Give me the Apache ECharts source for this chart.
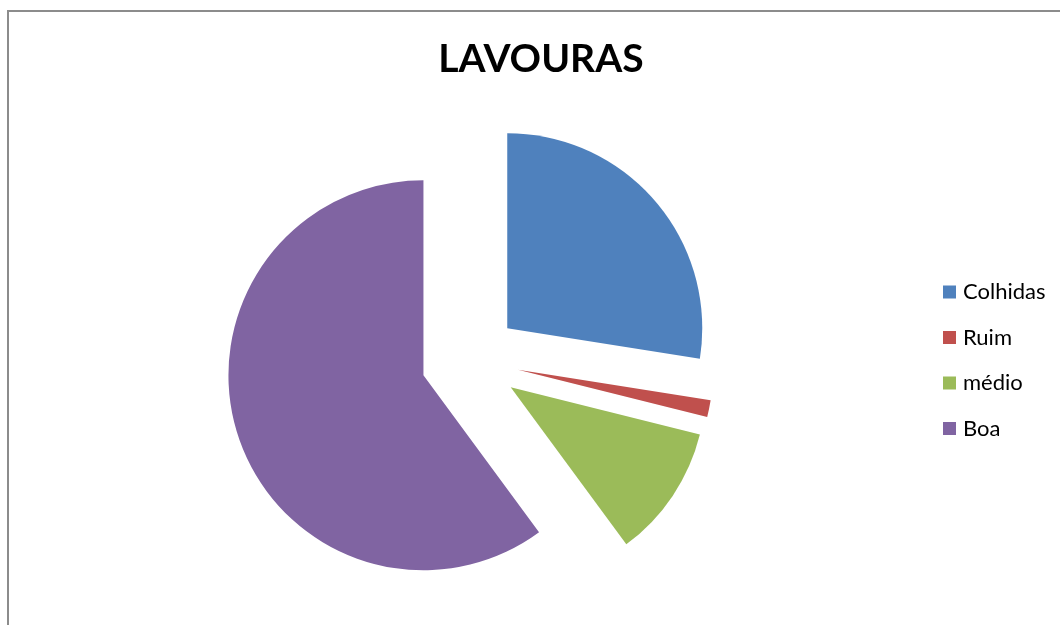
<!DOCTYPE html>
<html>
<head>
<meta charset="utf-8">
<script src="https://cdn.jsdelivr.net/npm/echarts@6/dist/echarts.min.js"></script>
<style>
	html, body { margin: 0; padding: 0; background: #fff; }
	#chart { width: 1060px; height: 625px; }
</style>
</head>
<body>
<div id="chart"></div>
<script>
const categories = [ 'Colhidas', 'Ruim', 'médio', 'Boa' ];
const values = [ 27.5, 1.4, 11.0, 60.1 ];
const colors = [ '#4F81BD', '#C0504D', '#9BBB59', '#8064A2' ];

const chart = echarts.init( document.getElementById( 'chart' ), null, { renderer: 'canvas' } );

const pieData = categories.map( ( name, i ) => ( {
	name,
	value: values[ i ],
	selected: true,
	itemStyle: { color: colors[ i ] }
} ) );

chart.setOption( {
	animation: false,
	title: {
		text: 'LAVOURAS',
		left: 536,
		top: 35,
		textAlign: 'center',
		textStyle: {
			fontFamily: 'Lato',
			fontWeight: 'bold',
			fontSize: 39,
			color: '#000'
		}
	},
	legend: {
		orient: 'vertical',
		left: 943,
		top: 281,
		padding: 0,
		itemWidth: 13,
		itemHeight: 13,
		itemGap: 23.5,
		icon: 'rect',
		selectedMode: false,
		textStyle: {
			fontFamily: 'Lato',
			fontSize: 22,
			color: '#000',
			padding: [ 0, 0, 0, 2 ]
		},
		data: categories
	},
	graphic: [ {
		type: 'rect',
		shape: { x: 8, y: 11, width: 1100, height: 700 },
		style: { fill: 'none', stroke: '#8c8c8c', lineWidth: 2 },
		silent: true
	} ],
	series: [ {
		type: 'pie',
		center: [ 470, 360 ],
		radius: 195,
		startAngle: 90,
		selectedMode: 'multiple',
		selectedOffset: 49,
		label: { show: false },
		labelLine: { show: false },
		emphasis: { disabled: true },
		itemStyle: { borderWidth: 0 },
		data: pieData
	} ]
} );
</script>
</body>
</html>
